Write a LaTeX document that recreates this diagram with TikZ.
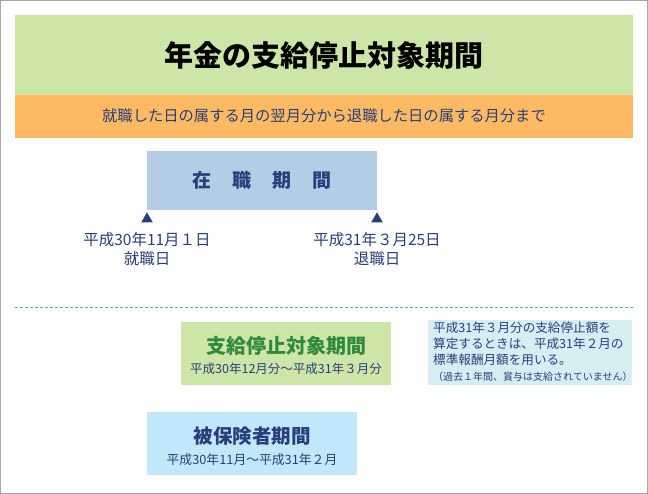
\documentclass[tikz,border=0pt]{standalone}
\usepackage{fontspec}
\setmainfont{Noto Sans CJK JP}
\definecolor{navy}{HTML}{2A3F7A}
\definecolor{lgreen}{HTML}{CDE6A8}
\definecolor{orng}{HTML}{FDBA63}
\definecolor{lblue}{HTML}{B4CCE6}
\definecolor{cyanbox}{HTML}{D6EEF2}
\definecolor{skyb}{HTML}{C0E7FA}
\definecolor{dgreen}{HTML}{2F8A3C}
\definecolor{dashc}{HTML}{5AA7D8}
\tikzset{band/.style={inner sep=0pt,outer sep=0pt},
 lbl/.style={text=navy,font=\fontsize{15.5}{19}\selectfont,align=center,inner sep=0pt},
 tri/.style={fill=navy,isosceles triangle,isosceles triangle apex angle=60,shape border rotate=90,inner sep=0pt,minimum height=10pt,draw=none}}
\usetikzlibrary{shapes.geometric}
\begin{document}
\begin{tikzpicture}[x=1pt,y=-1pt]
\useasboundingbox (0,0) rectangle (648,494);
\draw[gray!70,line width=0.8pt] (0.5,0.5) rectangle (647.5,493.5);
\fill[lgreen] (15,15) rectangle (633,95);
\node[band,font=\fontsize{29}{32}\selectfont\bfseries] (title) at (324,55) {年金の支給停止対象期間};
\fill[orng] (15,95) rectangle (633,138);
\node[band,text=navy,font=\fontsize{15.3}{17}\selectfont] (sub) at (324,116) {就職した日の属する月の翌月分から退職した日の属する月分まで};
\node[fill=lblue,minimum width=230pt,minimum height=59pt,inner sep=0pt,text=navy,font=\fontsize{19}{21}\selectfont\bfseries] (work) at (262,180.5) {在\hspace{1.1em}職\hspace{1.1em}期\hspace{1.1em}間};
\node[tri] (t1) at (147,219) {};
\node[tri] (t2) at (377,219) {};
\node[lbl,anchor=north] (d1) at (147,232) {平成30年11月１日\\就職日};
\node[lbl,anchor=north] (d2) at (377,232) {平成31年３月25日\\退職日};
\draw[dashc,dashed,dash pattern=on 3pt off 2pt] (15,307) -- (633,307);
\node[fill=lgreen,minimum width=210pt,minimum height=63pt,inner sep=0pt] (stop) at (286,353.5) {};
\node[band,text=dgreen,font=\fontsize{20}{22}\selectfont\bfseries] (stopt) at (286,346) {支給停止対象期間};
\node[lbl,font=\fontsize{12.5}{14}\selectfont] (stops) at (286,369) {平成30年12月分～平成31年３月分};
\node[fill=cyanbox,minimum width=204pt,minimum height=65pt,inner sep=0pt] (note) at (530,352.5) {};
\node[lbl,align=left,anchor=north west,font=\fontsize{12.6}{16}\selectfont] (notet) at (433,322) {平成31年３月分の支給停止額を\\算定するときは、平成31年２月の\\標準報酬月額を用いる。\\{\fontsize{10}{16}\selectfont（過去１年間、賞与は支給されていません）}};
\node[fill=skyb,minimum width=210pt,minimum height=63pt,inner sep=0pt] (ins) at (252,443.5) {};
\node[band,text=navy,font=\fontsize{19.5}{22}\selectfont\bfseries] (inst) at (252,436) {被保険者期間};
\node[lbl,font=\fontsize{12.8}{14}\selectfont] (inss) at (252,460) {平成30年11月～平成31年２月};
\end{tikzpicture}
\end{document}
